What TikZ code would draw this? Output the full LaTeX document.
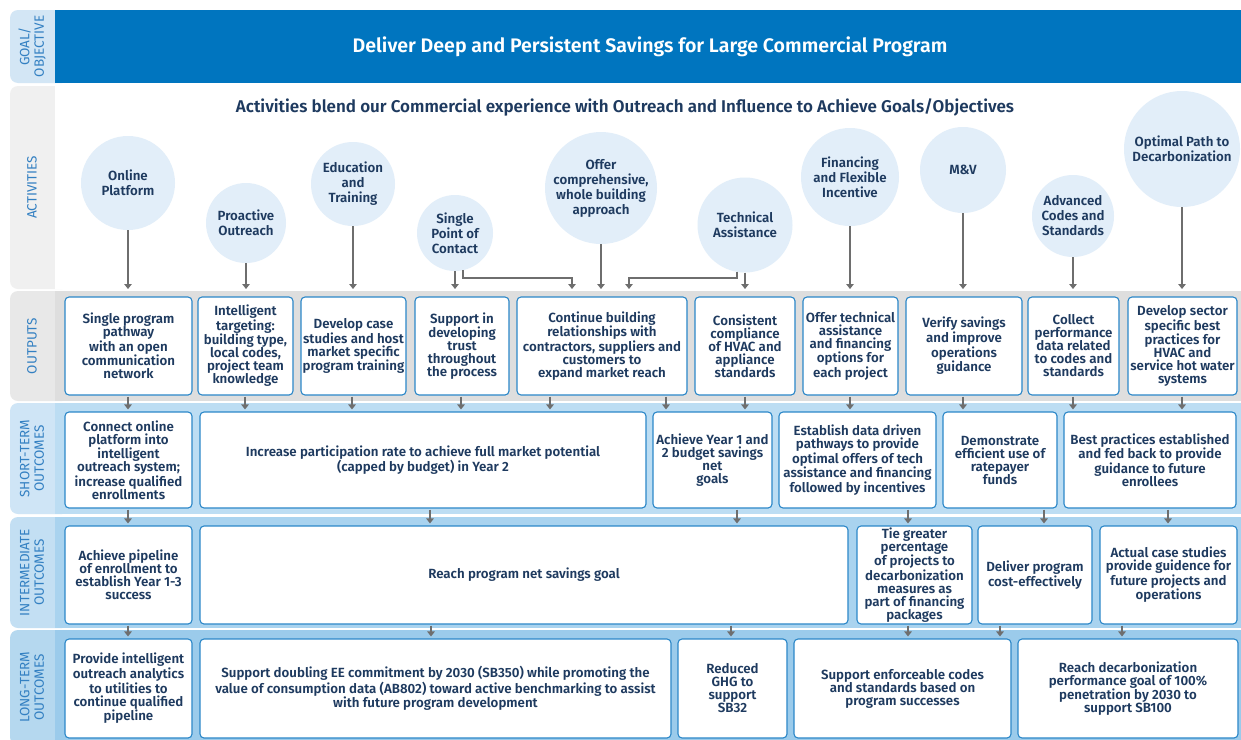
\documentclass[tikz,border=0pt]{standalone}
\usepackage{fontspec}
\setmainfont{Fira Sans}[BoldFont={Fira Sans SemiBold}]
\usetikzlibrary{arrows.meta,calc}

\definecolor{navy}{HTML}{1E3A5F}
\definecolor{goalblue}{HTML}{0075BF}
\definecolor{labelblue}{HTML}{3380C2}
\definecolor{boxblue}{HTML}{2B87C8}
\definecolor{circfill}{HTML}{E2EEF9}
\definecolor{arrgray}{HTML}{6E6E6E}
\definecolor{goalcell}{HTML}{D3E6F5}
\definecolor{actcell}{HTML}{F0F0F0}
\definecolor{outcell}{HTML}{E8E8E8}
\definecolor{outband}{HTML}{DEDEDE}
\definecolor{shortcell}{HTML}{CFE5F6}
\definecolor{shortband}{HTML}{BCDDF3}
\definecolor{midcell}{HTML}{C3DFF3}
\definecolor{midband}{HTML}{A9D3EF}
\definecolor{longcell}{HTML}{B5D8EF}
\definecolor{longband}{HTML}{9BCBEB}

% box given by its corners: name, x1, y1, x2, y2, text
\newcommand\bx[6]{\node[outbox,minimum width={(#4-#2)*1pt},minimum height={(#5-#3)*1pt}] (#1) at ({(#2+#4)/2},{(#3+#5)/2}) {#6};}
% band: top, bottom, cell colour, band colour, label
\newcommand\band[5]{%
  \fill[#3,rounded corners=8pt] (10,#1) rectangle (70,#2);
  \fill[#4] (55,#1) rectangle (1241,#2);
  \node[rowlabel] at (32,{(#1+#2)/2}) {#5};}

\begin{document}
\begin{tikzpicture}[x=1pt,y=-1pt,
  outbox/.style={draw=boxblue,fill=white,rounded corners=4pt,line width=1.1pt,
    align=center,inner sep=1pt,text=navy,
    font=\fontsize{13.3}{13}\selectfont\bfseries},
  circ/.style={circle,fill=circfill,align=center,inner sep=0pt,text=navy,
    font=\fontsize{13.3}{15}\selectfont\bfseries},
  rowlabel/.style={rotate=90,align=center,text=labelblue,
    font=\fontsize{13.5}{14.5}\selectfont},
  arr/.style={draw=arrgray,line width=1.2pt,-{Triangle[width=7.5pt,length=5pt]}},
  link/.style={draw=arrgray,line width=1.2pt}]

\useasboundingbox (0,0) rectangle (1241,739);
\fill[white] (0,0) rectangle (1241,739);

% ---- bands ----
\band{10}{83}{goalcell}{goalblue}{GOAL/\\OBJECTIVE}
\band{86}{289}{actcell}{white}{ACTIVITIES}
\band{291}{401}{outcell}{outband}{OUTPUTS}
\band{403}{514}{shortcell}{shortband}{SHORT-TERM\\OUTCOMES}
\band{517}{628}{midcell}{midband}{INTERMEDIATE\\OUTCOMES}
\band{630}{745}{longcell}{longband}{LONG-TERM\\OUTCOMES}

\node[text=white,font=\fontsize{19.6}{22}\selectfont\bfseries] (goal) at (650,47)
  {Deliver Deep and Persistent Savings for Large Commercial Program};
\node[text=navy,font=\fontsize{17}{20}\selectfont\bfseries] (acthead) at (625,107)
  {Activities blend our Commercial experience with Outreach and Influence to Achieve Goals/Objectives};

% ---- activities ----
\node[circ,minimum size=94pt]  (c1)  at (128,183)  {Online\\Platform};
\node[circ,minimum size=80pt]  (c2)  at (246,223)  {Proactive\\Outreach};
\node[circ,minimum size=84pt]  (c3)  at (353,184)  {Education\\and\\Training};
\node[circ,minimum size=76pt]  (c4)  at (455,233)  {Single\\Point of\\Contact};
\node[circ,minimum size=112pt] (c5)  at (601,188)  {Offer\\comprehensive,\\whole building\\approach};
\node[circ,minimum size=95pt]  (c6)  at (745,225)  {Technical\\Assistance};
\node[circ,minimum size=98pt]  (c7)  at (850,177)  {Financing\\and Flexible\\Incentive};
\node[circ,minimum size=86pt]  (c8)  at (963,170)  {M\&V};
\node[circ,minimum size=82pt]  (c9)  at (1073,216) {Advanced\\Codes and\\Standards};
\node[circ,minimum size=116pt] (c10) at (1182,149) {Optimal Path to\\Decarbonization};

\coordinate (actend) at (0,289);
\coordinate (elbow) at (0,278);
\foreach \c in {c1,c2,c3,c4,c5,c6,c7,c8,c9,c10}
  \draw[arr] (\c.south) -- (\c.south |- actend);
\draw[arr] ($(c4.south)+(8,-1)$) |- (572,0 |- elbow) -- (572,0 |- actend);
\draw[arr] ($(c6.south)+(-8,-1)$) |- (629,0 |- elbow) -- (629,0 |- actend);

% ---- outputs ----
\bx{o1}{65}{297}{192}{395}{Single program\\pathway\\with an open\\communication\\network}
\bx{o2}{198}{297}{293}{395}{Intelligent\\targeting:\\building type,\\local codes,\\project team\\knowledge}
\bx{o3}{301}{297}{406}{395}{Develop case\\studies and host\\market specific\\program training}
\bx{o4}{415}{297}{509}{395}{Support in\\developing\\trust\\throughout\\the process}
\bx{o5}{517}{297}{687}{395}{Continue building\\relationships with\\contractors, suppliers and\\customers to\\expand market reach}
\bx{o6}{695}{297}{795}{395}{Consistent\\compliance\\of HVAC and\\appliance\\standards}
\bx{o7}{803}{297}{898}{395}{Offer technical\\assistance\\and financing\\options for\\each project}
\bx{o8}{906}{297}{1022}{395}{Verify savings\\and improve\\operations\\guidance}
\bx{o9}{1028}{297}{1119}{395}{Collect\\performance\\data related\\to codes and\\standards}
\bx{o10}{1128}{297}{1237}{395}{Develop sector\\specific best\\practices for\\HVAC and\\service hot water\\systems}

% ---- short-term outcomes ----
\bx{s1}{65}{412}{192}{508}{Connect online\\platform into\\intelligent\\outreach system;\\increase qualified\\enrollments}
\bx{s2}{200}{412}{646}{508}{Increase participation rate to achieve full market potential\\(capped by budget) in Year 2}
\bx{s3}{653}{412}{772}{508}{Achieve Year 1 and\\2 budget savings\\net\\goals}
\bx{s4}{779}{412}{936}{508}{Establish data driven\\pathways to provide\\optimal offers of tech\\assistance and financing\\followed by incentives}
\bx{s5}{943}{412}{1057}{508}{Demonstrate\\efficient use of\\ratepayer\\funds}
\bx{s6}{1064}{412}{1236}{508}{Best practices established\\and fed back to provide\\guidance to future\\enrollees}

% ---- intermediate outcomes ----
\bx{i1}{65}{526}{192}{624}{Achieve pipeline\\of enrollment to\\establish Year 1-3\\success}
\bx{i2}{200}{526}{848}{624}{Reach program net savings goal}
\bx{i3}{857}{526}{972}{624}{Tie greater\\percentage\\of projects to\\decarbonization\\measures as\\part of financing\\packages}
\bx{i4}{978}{526}{1092}{624}{Deliver program\\cost-effectively}
\bx{i5}{1100}{526}{1237}{624}{Actual case studies\\provide guidence for\\future projects and\\operations}

% ---- long-term outcomes ----
\bx{l1}{65}{639}{192}{738}{Provide intelligent\\outreach analytics\\to utilities to\\continue qualified\\pipeline}
\bx{l2}{200}{639}{671}{738}{Support doubling EE commitment by 2030 (SB350) while promoting the\\value of consumption data (AB802) toward active benchmarking to assist\\with future program development}
\bx{l3}{678}{639}{787}{738}{Reduced\\GHG to\\support\\SB32}
\bx{l4}{794}{639}{1011}{738}{Support enforceable codes\\and standards based on\\program successes}
\bx{l5}{1018}{639}{1238}{738}{Reach decarbonization\\performance goal of 100\%\\penetration by 2030 to\\support SB100}

% ---- connectors between rows ----
\foreach \x/\a/\b in {128/o1/s1, 245/o2/s2, 352/o3/s2, 461/o4/s2, 550/o5/s2,
    666/o5/s3, 745/o6/s3, 850/o7/s4, 963/o8/s5, 1073/o9/s6, 1182/o10/s6,
    128/s1/i1, 430/s2/i2, 737/s3/i2, 908/s4/i3, 1044/s5/i4, 1168/s6/i5,
    128/i1/l1, 431/i2/l2, 731/i2/l3, 908/i3/l4, 1000/i4/l4, 1122/i5/l5}
  \draw[arr,shorten <=1pt,shorten >=2pt] (\x,0 |- \a.south) -- (\x,0 |- \b.north);

\end{tikzpicture}
\end{document}
